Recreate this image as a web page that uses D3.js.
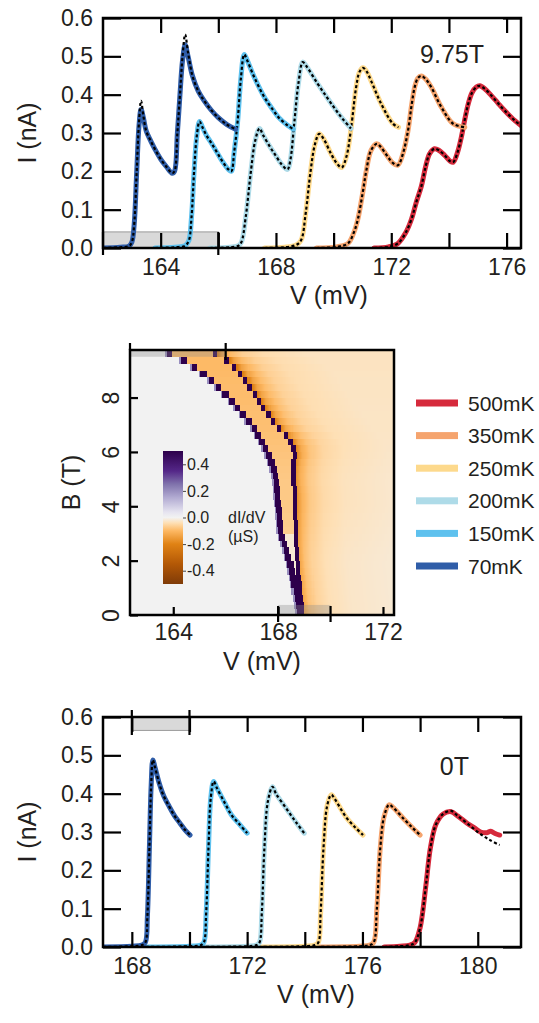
<!DOCTYPE html>
<html>
<head>
<meta charset="utf-8">
<script src="https://cdn.jsdelivr.net/npm/d3@7"></script>
<style>
  body { margin: 0; background: #fff; }
  svg text { font-family: "Liberation Sans", Arial, sans-serif; fill: #231f20; }
</style>
</head>
<body>
<div id="chart"></div>
<script>
// legend order, top to bottom
const temps = ['500mK', '350mK', '250mK', '200mK', '150mK', '70mK'];
const tempColors = ['#d62a3c', '#f5a46e', '#fdd98c', '#aedbe8', '#5ec1ee', '#2f5da8'];

// 9.75 T traces, [V (mV), I (nA)], each offset by 2 mV
const hi70 = [[162.0,0],[162.6,0.002],[162.9,0.005],[163.0,0.015],[163.08,0.06],[163.17,0.2],[163.25,0.32],[163.32,0.362],[163.4,0.34],[163.5,0.305],[163.65,0.28],[163.8,0.258],[164.0,0.232],[164.2,0.212],[164.4,0.195],[164.48,0.2],[164.58,0.3],[164.67,0.4],[164.76,0.49],[164.85,0.53],[164.95,0.5],[165.1,0.45],[165.3,0.41],[165.5,0.385],[165.75,0.36],[166.0,0.34],[166.3,0.322],[166.6,0.31]];
const hi70fit = [[162.0,0],[162.6,0.002],[162.9,0.005],[163.0,0.015],[163.08,0.06],[163.17,0.2],[163.25,0.33],[163.32,0.384],[163.4,0.345],[163.5,0.305],[163.65,0.28],[163.8,0.258],[164.0,0.232],[164.2,0.212],[164.4,0.195],[164.48,0.2],[164.58,0.3],[164.67,0.4],[164.76,0.5],[164.85,0.557],[164.95,0.51],[165.1,0.45],[165.3,0.41],[165.5,0.385],[165.75,0.36],[166.0,0.34],[166.3,0.322],[166.6,0.31]];
const hi150 = [[163.8,0],[164.5,0.002],[164.85,0.006],[164.98,0.02],[165.07,0.08],[165.16,0.2],[165.25,0.29],[165.35,0.33],[165.45,0.315],[165.6,0.292],[165.75,0.275],[165.95,0.25],[166.15,0.225],[166.35,0.205],[166.45,0.2],[166.55,0.25],[166.67,0.33],[166.78,0.44],[166.9,0.505],[167.0,0.49],[167.25,0.445],[167.6,0.393],[167.9,0.36],[168.1,0.34],[168.4,0.32],[168.6,0.31]];
const hi200 = [[165.7,0],[166.4,0.002],[166.7,0.006],[166.8,0.015],[166.95,0.08],[167.13,0.2],[167.28,0.28],[167.43,0.312],[167.55,0.295],[167.8,0.263],[168.0,0.24],[168.2,0.218],[168.4,0.205],[168.5,0.23],[168.64,0.33],[168.78,0.43],[168.93,0.485],[169.05,0.475],[169.45,0.428],[169.75,0.395],[170.03,0.365],[170.3,0.338],[170.6,0.312]];
const hi250 = [[167.6,0],[168.3,0.002],[168.7,0.008],[168.87,0.02],[169.03,0.09],[169.2,0.2],[169.35,0.27],[169.5,0.298],[169.65,0.285],[169.91,0.246],[170.1,0.222],[170.28,0.21],[170.45,0.24],[170.61,0.315],[170.78,0.419],[170.9,0.46],[171.02,0.47],[171.15,0.46],[171.3,0.436],[171.65,0.376],[172.06,0.324],[172.25,0.315]];
const hi350 = [[169.4,0],[170.1,0.003],[170.5,0.012],[170.7,0.04],[170.84,0.075],[171.0,0.14],[171.13,0.2],[171.3,0.255],[171.5,0.272],[171.65,0.262],[171.89,0.237],[172.05,0.222],[172.23,0.216],[172.4,0.245],[172.58,0.306],[172.7,0.37],[172.81,0.419],[172.92,0.443],[173.04,0.449],[173.2,0.44],[173.39,0.419],[173.74,0.367],[174.15,0.324],[174.55,0.315]];
const hi500 = [[171.4,0],[171.9,0.003],[172.23,0.012],[172.5,0.04],[172.7,0.075],[172.87,0.12],[173.04,0.16],[173.2,0.215],[173.33,0.246],[173.5,0.259],[173.65,0.255],[173.85,0.242],[174.05,0.226],[174.15,0.224],[174.3,0.25],[174.43,0.289],[174.55,0.335],[174.67,0.376],[174.8,0.405],[174.95,0.42],[175.07,0.423],[175.25,0.415],[175.48,0.397],[175.7,0.378],[175.94,0.358],[176.29,0.332],[176.58,0.315]];

// 0 T traces
const lo70 = [[167.0,0],[168.0,0.002],[168.35,0.005],[168.47,0.012],[168.54,0.08],[168.61,0.26],[168.67,0.42],[168.73,0.488],[168.8,0.47],[168.95,0.427],[169.1,0.395],[169.3,0.366],[169.5,0.34],[169.67,0.323],[169.85,0.305],[170.02,0.292]];
const lo150 = [[168.3,0],[170.0,0.002],[170.4,0.005],[170.5,0.012],[170.58,0.09],[170.66,0.26],[170.74,0.39],[170.84,0.432],[170.95,0.415],[171.23,0.375],[171.45,0.345],[171.7,0.323],[172.0,0.297]];
const lo200 = [[170.2,0],[172.0,0.002],[172.33,0.005],[172.43,0.012],[172.51,0.09],[172.6,0.26],[172.72,0.38],[172.88,0.418],[173.0,0.4],[173.39,0.358],[173.7,0.325],[173.98,0.297]];
const lo250 = [[172.2,0],[174.0,0.002],[174.35,0.005],[174.47,0.012],[174.55,0.09],[174.65,0.26],[174.78,0.37],[174.92,0.397],[175.05,0.385],[175.42,0.34],[175.75,0.312],[176.02,0.292]];
const lo350 = [[174.2,0],[175.9,0.002],[176.25,0.005],[176.39,0.012],[176.5,0.1],[176.62,0.26],[176.75,0.34],[176.92,0.371],[177.05,0.365],[177.46,0.332],[177.75,0.31],[178.0,0.292]];
const lo500 = [[176.75,0],[177.3,0.002],[177.65,0.005],[177.82,0.012],[178.0,0.05],[178.2,0.16],[178.36,0.26],[178.55,0.32],[178.8,0.347],[179.08,0.353],[179.3,0.342],[179.63,0.323],[179.9,0.31],[180.1,0.3],[180.3,0.298],[180.45,0.302],[180.6,0.296],[180.76,0.292]];
const lo500fit = [[176.75,0],[177.3,0.002],[177.65,0.005],[177.82,0.012],[178.0,0.05],[178.2,0.16],[178.36,0.26],[178.55,0.32],[178.8,0.347],[179.08,0.355],[179.3,0.342],[179.63,0.323],[180.0,0.3],[180.4,0.28],[180.76,0.266]];

const ivTicks = [0, 0.1, 0.2, 0.3, 0.4, 0.5, 0.6];

// dI/dV map: the two conductance peaks vs field
const mapB     = [0, 0.5, 1, 1.5, 2, 2.5, 3, 3.5, 4, 4.5, 5, 5.5, 6, 6.5, 7, 7.5, 8, 8.5, 9, 9.5, 9.75];
const mapEdge1 = [168.72,168.65,168.55,168.45,168.32,168.2,168.0,167.95,167.9,167.85,167.8,167.7,167.5,167.2,166.9,166.45,166.0,165.5,164.9,164.1,163.4];
const mapEdge2 = [168.85,168.8,168.75,168.7,168.65,168.6,168.58,168.57,168.57,168.55,168.5,168.5,168.58,168.35,167.8,167.45,167.1,166.75,166.4,165.8,165.2];
// how strong the negative dI/dV behind the peaks is, per field row
const mapGain  = [0.8, 0.8, 0.8, 0.8, 0.8, 0.85, 0.9, 0.95, 1.0, 1.0, 1.0, 1.05, 1.1, 1.15, 1.2, 1.2, 1.25, 1.25, 1.3, 1.3, 1.3];
// dI/dV (µS) behind the second peak, vs distance from it (mV)
const tailDist = [0, 0.2, 0.5, 1.0, 1.8, 3.5];
const tailVal  = [-0.17, -0.11, -0.075, -0.05, -0.035, -0.025];
const cbTicks = [-0.4, -0.2, 0, 0.2, 0.4];

const svg = d3.select('#chart').append('svg')
    .attr('width', 539)
    .attr('height', 1023);

const tickFont = 23, titleFont = 25;

class IVPanel {
    constructor(_config, _series) {
        this.config = _config;
        this.series = _series;
        this.initVis();
        this.renderVis();
    }

    initVis() {
        let vis = this;
        const c = vis.config;
        vis.chart = svg.append('g')
            .attr('transform', `translate(${c.left},${c.top})`);

        vis.xScale = d3.scaleLinear().domain(c.xDomain).range([0, c.width]);
        vis.yScale = d3.scaleLinear().domain([0, 0.6]).range([c.height, 0]);

        vis.chart.append('clipPath').attr('id', c.id + '-clip')
            .append('rect').attr('width', c.width).attr('height', c.height);

        // grey range marker
        const b = c.bar;
        vis.chart.append('rect')
            .attr('x', vis.xScale(b.x0))
            .attr('y', vis.yScale(b.y1))
            .attr('width', vis.xScale(b.x1) - vis.xScale(b.x0))
            .attr('height', vis.yScale(b.y0) - vis.yScale(b.y1))
            .attr('fill', '#d9d9d9')
            .attr('stroke', '#9a9a9a')
            .attr('stroke-width', 1);

        vis.plot = vis.chart.append('g').attr('clip-path', `url(#${c.id}-clip)`);

        vis.xAxis = d3.axisBottom(vis.xScale)
            .tickValues(c.xTicks)
            .tickSize(-15)
            .tickPadding(11)
            .tickFormat(d => c.xLabels.includes(d) ? d : '');
        vis.xAxisTop = d3.axisTop(vis.xScale).tickValues(c.xTicks).tickSize(-15).tickFormat('');
        vis.yAxis = d3.axisLeft(vis.yScale)
            .tickValues(ivTicks)
            .tickSize(-18)
            .tickPadding(10)
            .tickFormat(d3.format('.1f'));
        vis.yAxisRight = d3.axisRight(vis.yScale).tickValues(ivTicks).tickSize(-18).tickFormat('');

        vis.line = d3.line()
            .x(d => vis.xScale(d[0]))
            .y(d => vis.yScale(d[1]))
            .curve(d3.curveCatmullRom.alpha(0.5));
    }

    renderVis() {
        let vis = this;
        const c = vis.config;

        vis.series.forEach(s => {
            vis.plot.append('path')
                .attr('d', vis.line(s.data))
                .attr('fill', 'none')
                .attr('stroke', s.color)
                .attr('stroke-width', 5)
                .attr('stroke-linejoin', 'round')
                .attr('stroke-linecap', 'round');
            vis.plot.append('path')
                .attr('d', vis.line(s.fit || s.data))
                .attr('fill', 'none')
                .attr('stroke', '#000')
                .attr('stroke-width', 2.2)
                .attr('stroke-dasharray', '3,2.4');
        });

        const axes = [
            [vis.xAxis, `translate(0,${c.height})`],
            [vis.xAxisTop, 'translate(0,0)'],
            [vis.yAxis, 'translate(0,0)'],
            [vis.yAxisRight, `translate(${c.width},0)`]
        ];
        axes.forEach(([ax, tr]) => {
            vis.chart.append('g')
                .attr('transform', tr)
                .call(ax)
                .call(g => g.select('.domain').remove())
                .call(g => g.selectAll('.tick line').attr('stroke', '#000').attr('stroke-width', 2.2))
                .call(g => g.selectAll('.tick text').attr('font-size', tickFont).attr('fill', '#231f20'));
        });

        // range marker end ticks cross the frame
        const b = c.bar;
        [b.x0, b.x1].forEach(v => {
            vis.chart.append('line')
                .attr('x1', vis.xScale(v)).attr('x2', vis.xScale(v))
                .attr('y1', b.tickY[0]).attr('y2', b.tickY[1])
                .attr('stroke', '#000').attr('stroke-width', 2.2);
        });

        vis.chart.append('rect')
            .attr('width', c.width).attr('height', c.height)
            .attr('fill', 'none').attr('stroke', '#000').attr('stroke-width', 2.5);

        vis.chart.append('text')
            .attr('x', c.labelX).attr('y', c.labelY)
            .attr('text-anchor', 'end')
            .attr('font-size', titleFont)
            .text(c.label);

        vis.chart.append('text')
            .attr('x', c.titleX).attr('y', c.height + 56)
            .attr('text-anchor', 'middle')
            .attr('font-size', titleFont)
            .text('V (mV)');

        vis.chart.append('text')
            .attr('transform', `translate(${36 - c.left},${c.height / 2}) rotate(-90)`)
            .attr('text-anchor', 'middle')
            .attr('font-size', titleFont)
            .text('I (nA)');
    }
}

const idx = t => temps.indexOf(t);

new IVPanel({
    id: 'hi', left: 103, top: 18, width: 418, height: 230,
    xDomain: [162, 176.5],
    xTicks: [164, 166, 168, 170, 172, 174, 176],
    xLabels: [164, 168, 172, 176],
    bar: { x0: 162, x1: 166, y0: 0, y1: 0.042, tickY: [230 - 16, 237] },
    label: '9.75T', labelX: 381, labelY: 45, titleX: 226
}, [
    { data: hi500, color: tempColors[idx('500mK')] },
    { data: hi350, color: tempColors[idx('350mK')] },
    { data: hi250, color: tempColors[idx('250mK')] },
    { data: hi200, color: tempColors[idx('200mK')] },
    { data: hi150, color: tempColors[idx('150mK')] },
    { data: hi70, fit: hi70fit, color: tempColors[idx('70mK')] }
]);

new IVPanel({
    id: 'lo', left: 103, top: 717, width: 418, height: 230,
    xDomain: [167, 181.5],
    xTicks: [168, 170, 172, 174, 176, 178, 180],
    xLabels: [168, 172, 176, 180],
    bar: { x0: 168, x1: 170, y0: 0.565, y1: 0.6, tickY: [-7, 18] },
    label: '0T', labelX: 366, labelY: 58, titleX: 213
}, [
    { data: lo500, fit: lo500fit, color: tempColors[idx('500mK')] },
    { data: lo350, color: tempColors[idx('350mK')] },
    { data: lo250, color: tempColors[idx('250mK')] },
    { data: lo200, color: tempColors[idx('200mK')] },
    { data: lo150, color: tempColors[idx('150mK')] },
    { data: lo70, color: tempColors[idx('70mK')] }
]);

// ---- dI/dV map ----
const map = { left: 130, top: 350, width: 264, height: 265 };
const mapG = svg.append('g').attr('transform', `translate(${map.left},${map.top})`);
const mx = d3.scaleLinear().domain([162.35, 172.42]).range([0, map.width]);
const my = d3.scaleLinear().domain([0, 9.75]).range([map.height, 0]);

const didvColor = d3.scaleLinear()
    .domain([-0.5, -0.35, -0.2, -0.1, -0.04, 0, 0.04, 0.15, 0.25, 0.35, 0.5])
    .range(['#7f3b08', '#b35806', '#e08214', '#fdb863', '#fee0b6', '#f2f2f2', '#e6e4f0', '#b2abd2', '#8073ac', '#542788', '#2d004b'])
    .clamp(true);

const edge1 = d3.scaleLinear().domain(mapB).range(mapEdge1);
const edge2 = d3.scaleLinear().domain(mapB).range(mapEdge2);
const gain = d3.scaleLinear().domain(mapB).range(mapGain);
const tail = d3.scaleLinear().domain(tailDist).range(tailVal).clamp(true);

function didv(v, b) {
    const a = edge1(b), e = edge2(b);
    if (v < a - 0.06) return 0;
    if (v < a) return 0.2;
    if (v < a + 0.22) return 0.6;
    if (v < e) return b < 2.9 ? -0.02 : -0.075 * gain(b);
    if (v < e + 0.16) return 0.6;
    return tail(v - e - 0.16) * gain(b);
}

const bStep = 0.25, vStep = 0.04;
const cells = [];
d3.range(0, 9.75 - 1e-9, bStep).forEach(b => {
    d3.range(162.35, 172.42, vStep).forEach(v => {
        cells.push({ v, b, z: didv(v + vStep / 2, b + bStep / 2) });
    });
});

mapG.append('g')
    .attr('shape-rendering', 'crispEdges')
    .selectAll('rect')
    .data(cells)
    .join('rect')
    .attr('x', d => mx(d.v))
    .attr('y', d => my(d.b + bStep))
    .attr('width', mx(162.35 + vStep) - mx(162.35) + 0.3)
    .attr('height', my(0) - my(bStep) + 0.3)
    .attr('fill', d => didvColor(d.z));

// grey range markers on the map
mapG.append('rect')
    .attr('x', mx(162.35)).attr('y', my(9.75))
    .attr('width', mx(166) - mx(162.35)).attr('height', my(9.5) - my(9.75))
    .attr('fill', '#8c8c8c').attr('opacity', 0.35);
mapG.append('rect')
    .attr('x', mx(168)).attr('y', my(0.37))
    .attr('width', mx(170) - mx(168)).attr('height', my(0) - my(0.37))
    .attr('fill', '#8c8c8c').attr('opacity', 0.35);

const mapXAxis = d3.axisBottom(mx).tickValues([164, 168, 172]).tickSize(-8).tickPadding(9).tickFormat(d => d);
const mapYAxis = d3.axisLeft(my).tickValues([0, 2, 4, 6, 8]).tickSize(-8).tickPadding(0);

mapG.append('g')
    .attr('transform', `translate(0,${map.height})`)
    .call(mapXAxis)
    .call(g => g.select('.domain').remove())
    .call(g => g.selectAll('.tick line').attr('stroke', '#000').attr('stroke-width', 2.2))
    .call(g => g.selectAll('.tick text').attr('font-size', tickFont).attr('fill', '#231f20'));

mapG.append('g')
    .call(mapYAxis)
    .call(g => g.select('.domain').remove())
    .call(g => g.selectAll('.tick line').attr('stroke', '#000').attr('stroke-width', 2.2))
    .call(g => g.selectAll('.tick text')
        .attr('font-size', tickFont).attr('fill', '#231f20')
        .attr('transform', 'rotate(-90)')
        .attr('text-anchor', 'middle')
        .attr('x', 0).attr('y', -11).attr('dy', 0));

[[166, -7, 10], [168, map.height - 9, map.height + 7], [170, map.height - 9, map.height + 7]].forEach(([v, y1, y2]) => {
    mapG.append('line')
        .attr('x1', mx(v)).attr('x2', mx(v)).attr('y1', y1).attr('y2', y2)
        .attr('stroke', '#000').attr('stroke-width', 2.2);
});
mapG.append('line').attr('x1', 0).attr('x2', 0).attr('y1', -7).attr('y2', 0)
    .attr('stroke', '#000').attr('stroke-width', 2.2);

mapG.append('rect')
    .attr('width', map.width).attr('height', map.height)
    .attr('fill', 'none').attr('stroke', '#000').attr('stroke-width', 2.5);

mapG.append('text')
    .attr('x', map.width / 2).attr('y', map.height + 55)
    .attr('text-anchor', 'middle').attr('font-size', titleFont)
    .text('V (mV)');
mapG.append('text')
    .attr('transform', `translate(${80 - map.left},${map.height / 2}) rotate(-90)`)
    .attr('text-anchor', 'middle').attr('font-size', titleFont)
    .text('B (T)');

// colour bar
const cb = { x: 163, y: 451, w: 20, h: 133 };
const cy = d3.scaleLinear().domain([-0.5, 0.5]).range([cb.y + cb.h, cb.y]);
const grad = svg.append('defs').append('linearGradient')
    .attr('id', 'cbgrad').attr('x1', 0).attr('x2', 0).attr('y1', 1).attr('y2', 0);
didvColor.domain().forEach((d, i) => {
    grad.append('stop')
        .attr('offset', (d + 0.5))
        .attr('stop-color', didvColor.range()[i]);
});
svg.append('rect')
    .attr('x', cb.x).attr('y', cb.y).attr('width', cb.w).attr('height', cb.h)
    .attr('fill', 'url(#cbgrad)');
const cbG = svg.append('g').attr('transform', `translate(${cb.x + cb.w},0)`);
cbG.call(d3.axisRight(cy).tickValues(cbTicks).tickSize(3).tickPadding(1).tickFormat(d => d3.format('.1f')(d).replace('\u2212', '-')))
    .call(g => g.select('.domain').remove())
    .call(g => g.selectAll('.tick line').attr('stroke', '#444'))
    .call(g => g.selectAll('.tick text').attr('font-size', 16).attr('fill', '#231f20'));
svg.append('text').attr('x', 228).attr('y', 523).attr('font-size', 16).text('dI/dV');
svg.append('text').attr('x', 228).attr('y', 542).attr('font-size', 16).text('(µS)');

// legend
const legend = svg.append('g').attr('transform', 'translate(416,403)');
temps.forEach((t, i) => {
    const g = legend.append('g').attr('transform', `translate(0,${i * 32.6})`);
    g.append('rect').attr('x', 0).attr('y', -3.5).attr('width', 42).attr('height', 7)
        .attr('fill', tempColors[i]);
    g.append('text').attr('x', 52).attr('y', 7.5).attr('font-size', 21).text(t);
});
</script>
</body>
</html>
